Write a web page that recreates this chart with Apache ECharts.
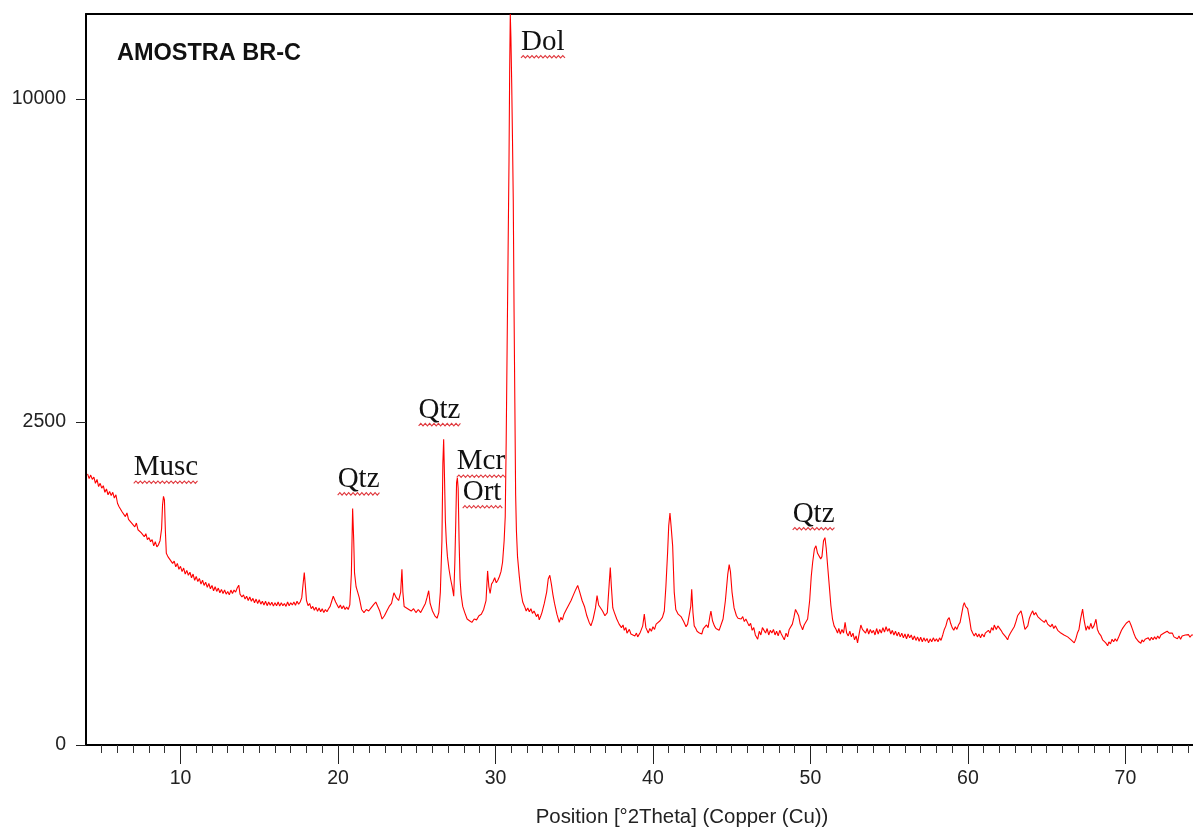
<!DOCTYPE html>
<html>
<head>
<meta charset="utf-8">
<title>AMOSTRA BR-C</title>
<script src="https://cdn.jsdelivr.net/npm/echarts@6/dist/echarts.min.js"></script>
<style>
  html, body { margin: 0; padding: 0; background: #fff; overflow: hidden; }
  #chart { width: 1193px; height: 832px; }
</style>
</head>
<body>
<div id="chart"></div>
<script>
// diffractogram: [position °2θ, counts]
var scan = [
  [4.10, 1760], [4.20, 1700], [4.30, 1745], [4.40, 1690], [4.50, 1720], [4.60, 1640], [4.70, 1690], [4.80, 1600], [4.90, 1640], [5.00, 1580],
  [5.10, 1610], [5.20, 1530], [5.30, 1570], [5.40, 1500], [5.50, 1540], [5.60, 1490], [5.70, 1530], [5.80, 1460], [5.90, 1500], [6.00, 1400],
  [6.10, 1360], [6.20, 1380], [6.30, 1300], [6.40, 1320], [6.50, 1250], [6.60, 1290], [6.70, 1220], [6.80, 1240], [6.90, 1180], [7.00, 1200],
  [7.10, 1140], [7.20, 1180], [7.30, 1110], [7.40, 1130], [7.50, 1080], [7.60, 1100], [7.70, 1040], [7.80, 1070], [7.90, 1010], [8.00, 1030],
  [8.10, 990], [8.20, 1010], [8.30, 950], [8.40, 990], [8.50, 940], [8.60, 960], [8.70, 1000], [8.80, 1120], [8.86, 1380], [8.92, 1480],
  [8.98, 1440], [9.04, 1100], [9.10, 880], [9.20, 850], [9.30, 830], [9.40, 845], [9.50, 790], [9.60, 810], [9.70, 760], [9.80, 790],
  [9.90, 740], [10.00, 765], [10.10, 720], [10.20, 750], [10.30, 700], [10.40, 730], [10.50, 690], [10.60, 715], [10.70, 670], [10.80, 700],
  [10.90, 650], [11.00, 680], [11.10, 640], [11.20, 665], [11.30, 620], [11.40, 650], [11.50, 610], [11.60, 635], [11.70, 595], [11.80, 625],
  [11.90, 585], [12.00, 610], [12.10, 570], [12.20, 600], [12.30, 565], [12.40, 590], [12.50, 555], [12.60, 580], [12.70, 550], [12.80, 575],
  [12.90, 545], [13.00, 565], [13.10, 540], [13.20, 575], [13.30, 550], [13.40, 575], [13.50, 560], [13.60, 590], [13.70, 612], [13.78, 545],
  [13.90, 525], [14.00, 540], [14.10, 510], [14.20, 530], [14.30, 500], [14.40, 525], [14.50, 495], [14.60, 515], [14.70, 485], [14.80, 510],
  [14.90, 480], [15.00, 505], [15.10, 475], [15.20, 495], [15.30, 470], [15.40, 495], [15.50, 465], [15.60, 490], [15.70, 468], [15.80, 488],
  [15.90, 462], [16.00, 485], [16.10, 465], [16.20, 490], [16.30, 462], [16.40, 485], [16.50, 465], [16.60, 480], [16.70, 460], [16.80, 490],
  [16.90, 465], [17.00, 485], [17.10, 470], [17.20, 490], [17.30, 468], [17.40, 495], [17.50, 475], [17.60, 490], [17.70, 520], [17.80, 640],
  [17.86, 712], [17.92, 620], [18.00, 500], [18.10, 465], [18.20, 480], [18.30, 445], [18.40, 460], [18.50, 435], [18.60, 455], [18.70, 428],
  [18.80, 450], [18.90, 425], [19.00, 445], [19.10, 420], [19.20, 440], [19.30, 425], [19.40, 445], [19.50, 460], [19.60, 495], [19.70, 530],
  [19.78, 540], [19.85, 490], [19.95, 470], [20.05, 450], [20.15, 470], [20.25, 445], [20.35, 465], [20.45, 440], [20.55, 455], [20.65, 440],
  [20.75, 470], [20.85, 700], [20.93, 1340], [21.00, 1000], [21.05, 710], [21.15, 600], [21.25, 560], [21.35, 520], [21.50, 440], [21.65, 420],
  [21.80, 440], [21.95, 430], [22.10, 450], [22.25, 470], [22.40, 490], [22.52, 500], [22.65, 430], [22.80, 380], [22.95, 400], [23.10, 430],
  [23.25, 460], [23.40, 480], [23.55, 555], [23.70, 520], [23.85, 500], [23.98, 560], [24.06, 740], [24.12, 560], [24.20, 460], [24.35, 450],
  [24.50, 440], [24.65, 430], [24.80, 445], [24.95, 420], [25.10, 440], [25.25, 420], [25.40, 450], [25.55, 480], [25.65, 520], [25.76, 570],
  [25.85, 480], [26.00, 430], [26.15, 400], [26.29, 385], [26.40, 420], [26.50, 560], [26.60, 1000], [26.66, 1900], [26.71, 2240], [26.76, 1750],
  [26.82, 1200], [26.88, 990], [26.95, 850], [27.05, 740], [27.15, 660], [27.25, 600], [27.35, 530], [27.42, 800], [27.48, 1200], [27.53, 1650],
  [27.58, 1710], [27.63, 1580], [27.69, 1000], [27.75, 660], [27.82, 540], [27.92, 460], [28.05, 420], [28.20, 380], [28.35, 370], [28.50, 360],
  [28.65, 380], [28.80, 375], [28.95, 400], [29.10, 410], [29.25, 440], [29.40, 500], [29.50, 726], [29.58, 600], [29.66, 550], [29.75, 620],
  [29.85, 640], [29.95, 670], [30.05, 630], [30.15, 650], [30.25, 680], [30.35, 720], [30.45, 800], [30.55, 1000], [30.62, 1250], [30.68, 2200],
  [30.74, 3800], [30.80, 5800], [30.86, 8200], [30.90, 10800], [30.94, 12800], [30.98, 12000], [31.03, 10500], [31.08, 8800], [31.13, 7100], [31.18, 4500],
  [31.23, 2800], [31.28, 1500], [31.33, 1100], [31.40, 850], [31.51, 685], [31.62, 560], [31.73, 490], [31.85, 460], [31.95, 430], [32.05, 450],
  [32.15, 425], [32.25, 445], [32.35, 415], [32.45, 430], [32.60, 395], [32.70, 410], [32.78, 375], [32.88, 400], [32.95, 420], [33.10, 480],
  [33.25, 560], [33.35, 660], [33.45, 690], [33.55, 620], [33.65, 540], [33.75, 480], [33.90, 410], [34.05, 360], [34.15, 390], [34.25, 375],
  [34.35, 410], [34.50, 440], [34.65, 470], [34.80, 500], [34.95, 540], [35.10, 580], [35.22, 610], [35.35, 560], [35.50, 500], [35.65, 460],
  [35.80, 400], [35.95, 360], [36.06, 340], [36.20, 380], [36.35, 450], [36.45, 535], [36.55, 470], [36.65, 480], [36.80, 430], [36.95, 400],
  [37.10, 420], [37.22, 620], [37.29, 754], [37.36, 600], [37.45, 450], [37.55, 420], [37.70, 380], [37.85, 350], [38.00, 330], [38.10, 345],
  [38.18, 315], [38.28, 330], [38.35, 300], [38.50, 320], [38.60, 295], [38.70, 305], [38.85, 285], [38.95, 300], [39.03, 280], [39.20, 305],
  [39.35, 340], [39.45, 410], [39.55, 330], [39.70, 300], [39.80, 325], [39.90, 310], [40.00, 335], [40.10, 320], [40.20, 350], [40.30, 340],
  [40.45, 370], [40.60, 390], [40.72, 430], [40.82, 600], [40.93, 890], [41.00, 1150], [41.08, 1290], [41.15, 1150], [41.25, 950], [41.35, 560],
  [41.45, 440], [41.60, 410], [41.70, 420], [41.78, 395], [41.88, 400], [41.95, 365], [42.05, 355], [42.10, 335], [42.20, 350], [42.30, 360],
  [42.40, 460], [42.46, 580], [42.54, 420], [42.62, 340], [42.72, 325], [42.80, 310], [42.90, 320], [42.95, 300], [43.05, 310], [43.10, 295],
  [43.20, 325], [43.30, 315], [43.40, 345], [43.50, 330], [43.62, 400], [43.68, 430], [43.78, 370], [43.90, 340], [44.00, 325], [44.10, 335],
  [44.20, 315], [44.32, 325], [44.45, 380], [44.60, 500], [44.75, 700], [44.84, 780], [44.92, 720], [45.02, 560], [45.15, 450], [45.30, 400],
  [45.40, 385], [45.50, 395], [45.60, 380], [45.70, 395], [45.80, 365], [45.90, 380], [46.00, 370], [46.10, 340], [46.20, 355], [46.30, 315],
  [46.40, 330], [46.50, 290], [46.60, 300], [46.65, 268], [46.75, 310], [46.85, 290], [46.95, 330], [47.07, 331], [47.15, 300], [47.25, 325],
  [47.35, 290], [47.45, 315], [47.55, 300], [47.65, 320], [47.75, 290], [47.85, 310], [47.95, 285], [48.05, 315], [48.15, 295], [48.25, 305],
  [48.34, 265], [48.45, 300], [48.55, 280], [48.65, 320], [48.75, 310], [48.85, 350], [48.95, 390], [49.05, 440], [49.14, 453], [49.25, 400],
  [49.35, 350], [49.45, 330], [49.50, 318], [49.60, 345], [49.70, 335], [49.82, 380], [49.95, 500], [50.05, 680], [50.14, 800], [50.25, 920],
  [50.35, 950], [50.45, 880], [50.56, 870], [50.65, 830], [50.73, 850], [50.83, 1000], [50.92, 1030], [51.00, 930], [51.09, 770], [51.20, 600],
  [51.30, 463], [51.40, 380], [51.50, 340], [51.62, 321], [51.72, 300], [51.80, 325], [51.90, 295], [52.00, 320], [52.10, 300], [52.20, 360],
  [52.30, 300], [52.40, 285], [52.50, 310], [52.60, 280], [52.70, 300], [52.80, 265], [52.90, 285], [52.99, 250], [53.10, 300], [53.20, 345],
  [53.30, 320], [53.40, 330], [53.50, 300], [53.60, 325], [53.70, 295], [53.80, 320], [53.90, 300], [54.00, 315], [54.10, 290], [54.20, 325],
  [54.30, 295], [54.40, 320], [54.50, 300], [54.60, 330], [54.70, 305], [54.80, 335], [54.90, 310], [55.00, 325], [55.10, 295], [55.20, 315],
  [55.30, 290], [55.40, 310], [55.50, 285], [55.60, 305], [55.70, 280], [55.80, 300], [55.90, 275], [56.00, 295], [56.10, 270], [56.20, 295],
  [56.30, 275], [56.40, 290], [56.50, 265], [56.60, 285], [56.70, 262], [56.80, 280], [56.90, 258], [57.00, 278], [57.10, 255], [57.20, 275],
  [57.30, 258], [57.40, 272], [57.50, 250], [57.60, 270], [57.70, 255], [57.80, 275], [57.90, 258], [58.00, 270], [58.10, 255], [58.20, 275],
  [58.29, 262], [58.40, 290], [58.50, 320], [58.60, 340], [58.70, 375], [58.81, 389], [58.90, 355], [59.00, 330], [59.10, 315], [59.20, 335],
  [59.30, 320], [59.40, 345], [59.50, 360], [59.60, 410], [59.70, 465], [59.77, 486], [59.85, 460], [59.93, 470], [59.98, 445], [60.10, 380],
  [60.20, 320], [60.30, 300], [60.40, 285], [60.50, 300], [60.60, 280], [60.70, 295], [60.80, 275], [60.90, 295], [61.03, 280], [61.10, 300],
  [61.20, 290], [61.30, 315], [61.40, 300], [61.50, 330], [61.60, 315], [61.67, 345], [61.80, 320], [61.90, 340], [61.99, 330], [62.10, 315],
  [62.20, 300], [62.30, 290], [62.40, 280], [62.52, 265], [62.60, 285], [62.70, 300], [62.80, 295], [62.94, 335], [63.05, 365], [63.15, 400],
  [63.25, 410], [63.37, 431], [63.45, 400], [63.55, 350], [63.62, 320], [63.69, 310], [63.80, 340], [63.90, 385], [64.00, 410], [64.11, 431],
  [64.20, 405], [64.30, 420], [64.43, 395], [64.55, 400], [64.65, 375], [64.75, 385], [64.85, 360], [64.95, 375], [65.06, 350], [65.15, 360],
  [65.25, 335], [65.35, 350], [65.45, 325], [65.55, 340], [65.70, 315], [65.80, 325], [65.90, 300], [66.00, 310], [66.10, 290], [66.20, 300],
  [66.33, 280], [66.45, 285], [66.55, 265], [66.65, 270], [66.75, 250], [66.85, 270], [66.95, 300], [67.05, 320], [67.15, 380], [67.28, 442],
  [67.38, 370], [67.50, 315], [67.60, 340], [67.70, 320], [67.80, 355], [67.90, 325], [68.00, 340], [68.13, 379], [68.22, 320], [68.32, 300],
  [68.45, 285], [68.55, 265], [68.65, 275], [68.75, 250], [68.87, 236], [68.95, 255], [69.05, 245], [69.15, 268], [69.25, 255], [69.35, 270],
  [69.45, 258], [69.55, 275], [69.65, 295], [69.75, 315], [69.85, 330], [69.95, 340], [70.05, 355], [70.15, 345], [70.24, 369], [70.35, 345],
  [70.45, 320], [70.55, 295], [70.65, 275], [70.75, 265], [70.85, 255], [70.98, 248], [71.05, 265], [71.15, 255], [71.25, 268], [71.35, 258],
  [71.45, 275], [71.55, 262], [71.65, 278], [71.75, 265], [71.85, 280], [71.95, 268], [72.05, 285], [72.15, 272], [72.25, 290], [72.35, 280],
  [72.45, 300], [72.55, 290], [72.65, 310], [72.78, 300], [72.88, 290], [72.98, 300], [73.08, 280], [73.18, 290], [73.30, 270], [73.40, 285],
  [73.50, 268], [73.60, 285], [73.70, 275], [73.80, 290], [73.90, 280], [74.00, 292], [74.10, 278], [74.20, 290], [74.30, 280], [74.45, 290]
]

// phase labels: [text, °2θ at left of text, counts at middle of text]
var phases = [
  ['Musc', 7.03, 1842],
  ['Qtz', 19.98, 1690],
  ['Qtz', 25.12, 2686],
  ['Mcr', 27.54, 1923],
  ['Ort', 27.92, 1529],
  ['Dol', 31.62, 11829],
  ['Qtz', 48.87, 1275]
]

var xMajorTicks = [10, 20, 30, 40, 50, 60, 70]
var yTicks = [0, 2500, 10000]
var xMin = 4
var xMax = 74.29
var yTop = 12800

var xMinorTicks = []
for (var t = 5; t < xMax; t++) {
  if (t % 10 !== 0) xMinorTicks.push(t)
}

// intensity axis is square-root scaled
var sq = function (v) { return Math.sqrt(v) }

var chart = echarts.init(document.getElementById('chart'))
chart.setOption({
  animation: false,
  backgroundColor: '#fff',
  title: {
    text: 'AMOSTRA BR-C',
    left: 117,
    top: 42,
    padding: 0,
    textStyle: {
      fontFamily: 'Liberation Sans',
      fontWeight: 'bold',
      fontSize: 23.5,
      color: '#111'
    }
  },
  grid: {
    left: 86,
    right: 0,
    top: 14,
    bottom: 85,
    show: false
  },
  xAxis: [{
    type: 'value',
    min: xMin,
    max: xMax,
    name: 'Position [°2Theta] (Copper (Cu))',
    nameLocation: 'middle',
    nameGap: 62,
    nameTextStyle: {
      fontFamily: 'Liberation Sans',
      fontSize: 20.4,
      color: '#222',
      padding: [0, 0, 0, 85]
    },
    splitLine: { show: false },
    axisLine: { lineStyle: { color: '#000', width: 2 } },
    axisTick: {
      customValues: xMajorTicks,
      length: 19,
      lineStyle: { color: '#222', width: 1 }
    },
    axisLabel: {
      customValues: xMajorTicks,
      margin: 24,
      fontFamily: 'Liberation Sans',
      fontSize: 19.5,
      color: '#222'
    }
  }, {
    type: 'value',
    min: xMin,
    max: xMax,
    position: 'bottom',
    splitLine: { show: false },
    axisLine: { show: false },
    axisLabel: { show: false },
    axisTick: {
      customValues: xMinorTicks,
      length: 8,
      lineStyle: { color: '#333', width: 1 }
    }
  }, {
    // top frame line
    type: 'value',
    min: xMin,
    max: xMax,
    position: 'top',
    splitLine: { show: false },
    axisLine: { show: true, lineStyle: { color: '#000', width: 2 } },
    axisLabel: { show: false },
    axisTick: { show: false }
  }],
  yAxis: {
    type: 'value',
    min: 0,
    max: sq(yTop),
    splitLine: { show: false },
    axisLine: { show: true, lineStyle: { color: '#000', width: 2 } },
    axisTick: {
      customValues: yTicks.map(sq),
      length: 10,
      lineStyle: { color: '#222', width: 1 }
    },
    axisLabel: {
      customValues: yTicks.map(sq),
      margin: 20,
      fontFamily: 'Liberation Sans',
      fontSize: 19.5,
      color: '#222',
      formatter: function (v) { return String(Math.round(v * v)) }
    }
  },
  series: [{
    type: 'line',
    data: scan.map(function (p) { return [p[0], sq(p[1])] }),
    showSymbol: false,
    symbol: 'none',
    clip: true,
    lineStyle: { color: '#f00', width: 1.1 },
    silent: true
  }]
})

// phase names with the red wavy underline
var measure = document.createElement('canvas').getContext('2d')
var labelFont = '29px "Liberation Serif"'
measure.font = labelFont
var elements = []
phases.forEach(function (ph) {
  var pt = chart.convertToPixel({ xAxisIndex: 0, yAxisIndex: 0 }, [ph[1], sq(ph[2])])
  var w = measure.measureText(ph[0]).width
  elements.push({
    type: 'text',
    x: pt[0],
    y: pt[1],
    style: {
      text: ph[0],
      font: labelFont,
      fill: '#111',
      align: 'left',
      verticalAlign: 'middle',
      textAlign: 'left',
      textVerticalAlign: 'middle'
    }
  })
  var base = pt[1] + 14.5
  var pts = []
  for (var k = 0; k <= Math.round(w / 2.2); k++) {
    pts.push([pt[0] + k * 2.2, base + (k % 2 ? -1.2 : 1.2)])
  }
  elements.push({
    type: 'polyline',
    shape: { points: pts },
    style: { stroke: '#e0393e', lineWidth: 1.1, fill: null }
  })
})
chart.setOption({ graphic: { elements: elements } })
</script>
</body>
</html>
